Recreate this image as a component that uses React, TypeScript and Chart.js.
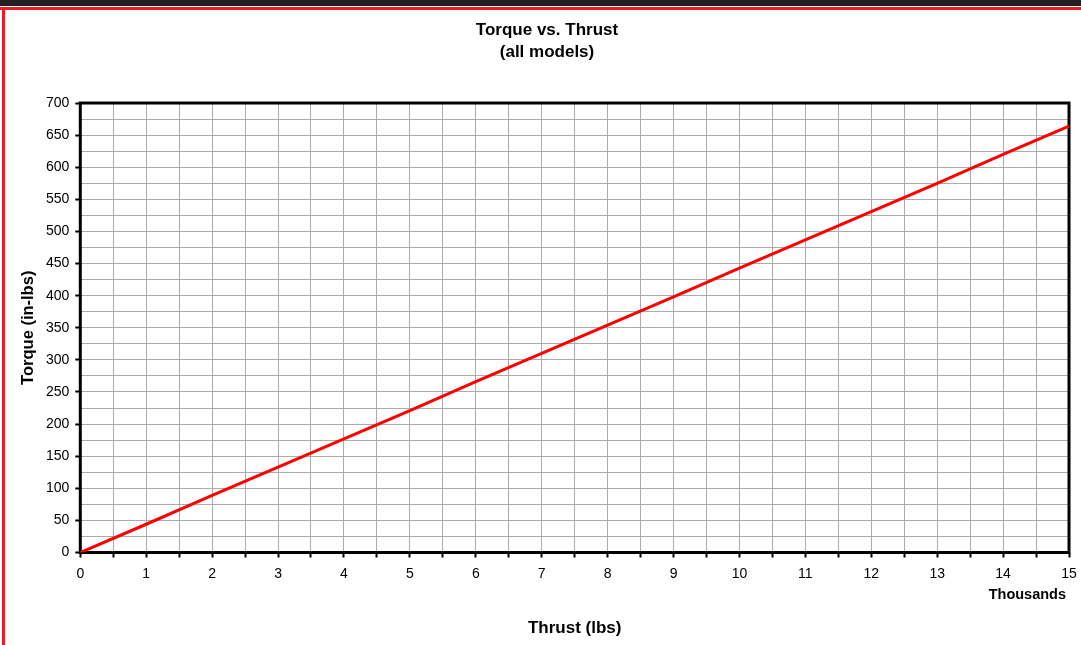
import React, { useEffect, useRef } from 'react';
import { Chart, registerables } from 'chart.js';

Chart.register(...registerables);

// ---- data ----
const thrustLbs = [0, 1000, 2000, 3000, 4000, 5000, 6000, 7000, 8000, 9000, 10000, 11000, 12000, 13000, 14000, 15000];
const torqueInLbs = [0, 44, 89, 133, 177, 221, 266, 310, 354, 398, 443, 487, 531, 575, 620, 664];
const chartTitle = ['Torque vs. Thrust', '(all models)'];
const xAxisTitle = 'Thrust (lbs)';
const yAxisTitle = 'Torque (in-lbs)';
const xUnitLabel = 'Thousands';
const xMin = 0;
const xMax = 15000;
const xStep = 500;
const yMin = 0;
const yMax = 700;
const yStep = 25;
const yLabelEvery = 50;
const xLabelEvery = 1000;

const FONT = '"Liberation Sans", Arial, Helvetica, sans-serif';
const CANVAS_W = 1076;
const CANVAS_H = 635;

const framePlugin = {
  id: 'frameAndUnits',
  beforeDatasetsDraw(chart: any) {
    const { ctx, chartArea } = chart;
    const { left, right, top, bottom } = chartArea;
    ctx.save();
    ctx.strokeStyle = '#000000';
    ctx.lineWidth = 3;
    ctx.strokeRect(left, top, right - left, bottom - top);
    ctx.restore();
  },
  afterDraw(chart: any) {
    const { ctx, chartArea } = chart;
    ctx.save();
    ctx.fillStyle = '#000000';
    ctx.font = `bold 14.5px ${FONT}`;
    ctx.textAlign = 'right';
    ctx.textBaseline = 'middle';
    ctx.fillText(xUnitLabel, chartArea.right - 3, chartArea.bottom + 42);
    ctx.restore();
  },
};

export default function App() {
  const canvasRef = useRef<HTMLCanvasElement | null>(null);

  useEffect(() => {
    const canvas = canvasRef.current;
    if (!canvas) return;
    const points = thrustLbs.map((x, i) => ({ x, y: torqueInLbs[i] }));
    const chart = new Chart(canvas, {
      type: 'line',
      data: {
        datasets: [
          {
            label: 'Torque',
            data: points,
            borderColor: '#ff0000',
            backgroundColor: '#ff0000',
            borderWidth: 3,
            pointRadius: 0,
            tension: 0,
            fill: false,
          },
        ],
      },
      plugins: [framePlugin],
      options: {
        animation: false,
        responsive: false,
        devicePixelRatio: 1,
        layout: { padding: { top: 0, right: 12, bottom: 0, left: 20 } },
        plugins: {
          legend: { display: false },
          tooltip: { enabled: false },
          title: {
            display: true,
            text: chartTitle,
            color: '#000000',
            font: { family: FONT, size: 17, weight: 'bold', lineHeight: 1.265 },
            padding: { top: 10, bottom: 40 },
          },
        },
        scales: {
          x: {
            type: 'linear',
            min: xMin,
            max: xMax,
            afterFit(scale: any) {
              scale.height = CANVAS_H - 542.5;
              scale.paddingLeft = 0;
              scale.paddingRight = 0;
            },
            border: { display: false },
            grid: {
              color: '#ababab',
              lineWidth: 1,
              drawTicks: true,
              tickLength: 5,
              tickColor: '#000000',
              tickWidth: 2,
            },
            ticks: {
              stepSize: xStep,
              autoSkip: false,
              maxRotation: 0,
              minRotation: 0,
              padding: 8,
              color: '#000000',
              font: { family: FONT, size: 14 },
              callback: (v: any) => (Number(v) % xLabelEvery === 0 ? String(Number(v) / 1000) : ''),
            },
            title: {
              display: true,
              text: xAxisTitle,
              color: '#000000',
              font: { family: FONT, size: 17, weight: 'bold', lineHeight: 1.2 },
              padding: { top: 0, bottom: 6 },
            },
          },
          y: {
            type: 'linear',
            min: yMin,
            max: yMax,
            afterFit(scale: any) {
              scale.width = 55.3;
            },
            border: { display: false },
            grid: {
              color: '#ababab',
              lineWidth: 1,
              drawTicks: true,
              tickLength: 5,
              tickColor: (ctx: any) =>
                ctx.tick && ctx.tick.value % yLabelEvery === 0 ? '#000000' : 'rgba(0,0,0,0)',
              tickWidth: 2,
            },
            ticks: {
              stepSize: yStep,
              autoSkip: false,
              padding: 6,
              color: '#000000',
              font: { family: FONT, size: 14 },
              callback: (v: any) => (Number(v) % yLabelEvery === 0 ? String(v) : ''),
            },
            title: {
              display: true,
              text: yAxisTitle,
              color: '#000000',
              font: { family: FONT, size: 16.5, weight: 'bold', lineHeight: 1.2 },
              padding: { top: -6.5, bottom: 0 },
            },
          },
        },
      },
    } as any);
    return () => chart.destroy();
  }, []);

  return (
    <div
      style={{
        position: 'fixed',
        left: 0,
        top: 0,
        width: 1081,
        height: 645,
        background: '#ffffff',
        overflow: 'hidden',
      }}
    >
      <div style={{ position: 'absolute', left: 0, top: 0, width: 1081, height: 6, background: '#231f20' }} />
      <div style={{ position: 'absolute', left: 0, top: 7, width: 1081, height: 2.5, background: '#ed1c24' }} />
      <div style={{ position: 'absolute', left: 2, top: 7, width: 2.5, height: 638, background: '#ed1c24' }} />
      <canvas
        ref={canvasRef}
        width={CANVAS_W}
        height={CANVAS_H}
        style={{ position: 'absolute', left: 5, top: 10, width: CANVAS_W, height: CANVAS_H }}
      />
    </div>
  );
}
